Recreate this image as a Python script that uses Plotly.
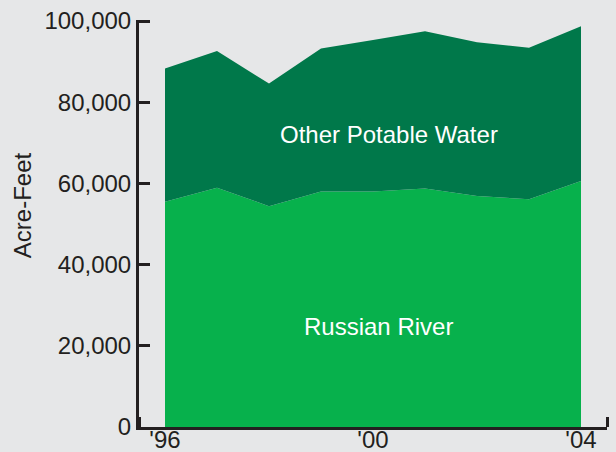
import plotly.graph_objects as go

years = [1996, 1997, 1998, 1999, 2000, 2001, 2002, 2003, 2004]
russian_river = [55500, 58900, 54400, 58000, 58000, 58750, 56900, 56100, 60600]
other_potable = [32800, 33700, 30200, 35200, 37300, 38750, 37900, 37300, 38100]
tick_years = [1996, 2000, 2004]
tick_labels = ["'96", "'00", "'04"]
y_ticks = [0, 20000, 40000, 60000, 80000, 100000]

ink = "#231F20"
bg = "#E6E7E8"
font = "Liberation Sans, Arial, sans-serif"
fs = 24

fig = go.Figure()
fig.add_trace(go.Scatter(x=years, y=russian_river, stackgroup="a", mode="lines",
                         line=dict(width=0, color="#07B14C"), fillcolor="#07B14C",
                         name="Russian River", hoverinfo="skip"))
fig.add_trace(go.Scatter(x=years, y=other_potable, stackgroup="a", mode="lines",
                         line=dict(width=0, color="#00784A"), fillcolor="#00784A",
                         name="Other Potable Water", hoverinfo="skip"))

fig.add_annotation(x=2000.3, y=72000, text="Other Potable Water", showarrow=False,
                   font=dict(family=font, size=fs, color="white"))
fig.add_annotation(x=2000.1, y=24800, text="Russian River", showarrow=False,
                   font=dict(family=font, size=fs, color="white"))
fig.add_annotation(xref="paper", yref="paper", x=-0.25, y=0.545, text="Acre-Feet",
                   textangle=-90, showarrow=False, xanchor="center", yanchor="middle",
                   font=dict(family=font, size=fs, color=ink))

fig.update_layout(
    width=616, height=452,
    paper_bgcolor=bg, plot_bgcolor=bg,
    margin=dict(l=139, r=9, t=20, b=25),
    showlegend=False,
    font=dict(family=font, size=fs, color=ink),
    xaxis=dict(range=[1995.5, 2004.5], tickvals=tick_years, ticktext=tick_labels,
               ticks="", showline=True, linecolor=ink, linewidth=3,
               showgrid=False, zeroline=False, layer="below traces",
               automargin=False, ticklabelstandoff=-11,
               tickfont=dict(size=fs, color=ink),
               minor=dict(ticks="inside", tick0=1995.5, dtick=1, ticklen=10,
                          tickwidth=3, tickcolor=ink, showgrid=False)),
    yaxis=dict(range=[0, 100250], tickvals=y_ticks, tickformat=",d",
               ticks="inside", ticklen=11, tickwidth=3, tickcolor=ink,
               showline=True, linecolor=ink, linewidth=3,
               showgrid=False, zeroline=False, layer="above traces",
               automargin=False,
               tickfont=dict(size=fs, color=ink)),
)

fig.write_html("out.html", config={"displayModeBar": False},
               post_script="document.body.style.margin='0';document.body.style.background='#E6E7E8';")
